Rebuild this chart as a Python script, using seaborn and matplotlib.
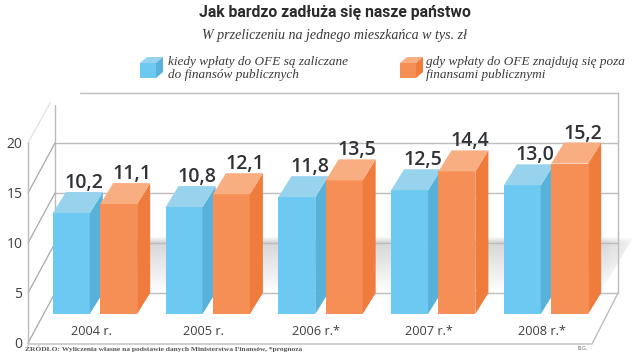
import numpy as np
import pandas as pd
import matplotlib
matplotlib.use("Agg")
import matplotlib.pyplot as plt
from matplotlib.patches import Polygon
from matplotlib.transforms import IdentityTransform, ScaledTranslation
import seaborn as sns

years = ["2004 r.", "2005 r.", "2006 r.*", "2007 r.*", "2008 r.*"]
series_a = "kiedy wpłaty do OFE są zaliczane\ndo finansów publicznych"
series_b = "gdy wpłaty do OFE znajdują się poza\nfinansami publicznymi"
values_a = [10.2, 10.8, 11.8, 12.5, 13.0]
values_b = [11.1, 12.1, 13.5, 14.4, 15.2]
y_ticks = [0, 5, 10, 15, 20]

FRONT = {"a": "#6CC9F1", "b": "#F58F55"}
TOP = {"a": "#98D3EE", "b": "#F9AE82"}
SIDE = {"a": "#58B1D9", "b": "#EF7B3C"}
W, H = 640, 355
DX, DY = 13, 21  # 3D depth of bars, px

sns.set_theme(style="white")
fig = plt.figure(figsize=(W / 100, H / 100), dpi=100, facecolor="white")

# Background layer in pixel coordinates (origin top-left)
bg = fig.add_axes([0, 0, 1, 1], zorder=0)
bg.set_xlim(0, W)
bg.set_ylim(H, 0)
bg.axis("off")

# Soft shadow on the back wall
rows, cols = 60, 60
vert = np.interp(np.arange(rows), [0, 6, rows - 1], [0.0, 0.42, 0.0])
horiz = np.interp(np.arange(cols), [0, cols - 4, cols - 1], [1.0, 1.0, 0.35])
grad = np.ones((rows, cols, 4)) * 0.62
grad[:, :, 3] = vert[:, None] * horiz[None, :]
im = bg.imshow(grad, extent=(137, 634, 293, 236), aspect="auto", zorder=1)
clip = Polygon([(137, 236), (634, 236), (600, 293), (137, 293)], closed=True,
               transform=bg.transData, fc="none", ec="none")
bg.add_patch(clip)
im.set_clip_path(clip)
bg.set_xlim(0, W)
bg.set_ylim(H, 0)

# 3D frame: back wall, floor and left wall
GRID = "#bcbcbc"
for gy in [143, 193, 243, 293]:
    bg.plot([55, 618], [gy, gy], color=GRID, lw=1.0, zorder=2)
bg.plot([80, 618], [93, 93], color=GRID, lw=1.0, zorder=2)
bg.plot([55, 55], [105, 293], color=GRID, lw=1.0, zorder=2)
bg.plot([618, 618], [93, 293], color=GRID, lw=1.0, zorder=2)
bg.plot([28, 592, 618], [344, 344, 293], color=GRID, lw=1.0, zorder=2)
for ly in [343, 293, 243, 193]:
    bg.plot([28, 55], [ly, ly - 50], color="#a8a8a8", lw=0.9, zorder=2)
bg.plot([28, 50], [143, 103], color="#e2e2e2", lw=0.9, zorder=2)

# Bars
frame = pd.DataFrame({
    "year": years * 2,
    "series": ["a"] * len(years) + ["b"] * len(years),
    "value": values_a + values_b,
})
ax = fig.add_axes([0, (H - 314) / H, 1, 314 / H], zorder=2)
ax.patch.set_alpha(0)
sns.barplot(data=frame, x="year", y="value", hue="series", order=years,
            hue_order=["a", "b"], palette=FRONT, saturation=1, width=0.84,
            gap=0.22, linewidth=0, legend=False, errorbar=None, ax=ax)
ax.set_xlim(-95 / 112.75, (W - 95) / 112.75)
ax.set_ylim(0, 314 / 9.9)
ax.set_xlabel("")
ax.set_ylabel("")
ax.set_yticks([])
for s in ax.spines.values():
    s.set_visible(False)
ax.tick_params(axis="x", length=0, pad=8, labelsize=9.2, colors="#3f3f3f")
shift = ScaledTranslation(-4 / 100, 0, fig.dpi_scale_trans)
for lab in ax.get_xticklabels():
    lab.set_family("Open Sans")
    lab.set_transform(lab.get_transform() + shift)

bars = [p for p in ax.patches if p.get_width() > 0]
keys = ["a"] * len(values_a) + ["b"] * len(values_b)
vals = values_a + values_b
ident = IdentityTransform()
for p, k, v in zip(bars, keys, vals):
    x0, y0 = ax.transData.transform((p.get_x(), 0))
    x1, y1 = ax.transData.transform((p.get_x() + p.get_width(), p.get_height()))
    z = 3 + p.get_x() * 2
    p.set_zorder(z)
    p.set_clip_on(False)
    ax.add_patch(Polygon([(x1, y0), (x1 + DX, y0 + DY), (x1 + DX, y1 + DY), (x1, y1)],
                         transform=ident, fc=SIDE[k], ec="none", zorder=z, clip_on=False))
    ax.add_patch(Polygon([(x0, y1), (x1, y1), (x1 + DX, y1 + DY), (x0 + DX, y1 + DY)],
                         transform=ident, fc=TOP[k], ec="none", zorder=z, clip_on=False))
    ax.text((x0 + x1) / 2 + 13, y1 + DY + 9, f"{v:.1f}".replace(".", ","),
            transform=ident, ha="center", va="center", fontsize=14,
            family="Open Sans", weight="semibold", color="#2f3236", zorder=100)

# Value axis in its own scale, on the front edge of the left wall
yax = fig.add_axes([28 / W, (H - 343) / H, 1 / W, 200 / H], zorder=1)
yax.patch.set_alpha(0)
yax.set_ylim(y_ticks[0], y_ticks[-1])
yax.set_yticks(y_ticks)
yax.set_xticks([])
for s in ["top", "right", "bottom"]:
    yax.spines[s].set_visible(False)
yax.spines["left"].set_color(GRID)
yax.spines["left"].set_linewidth(1.0)
yax.tick_params(axis="y", length=0, pad=4, labelsize=10, colors="#3f3f3f")
for lab in yax.get_yticklabels():
    lab.set_family("Open Sans")

# Titles
bg.text(335, 12, "Jak bardzo zadłuża się nasze państwo", ha="center", va="center",
        fontsize=11.3, family="Roboto", weight="bold", color="#2b2b2b")
bg.text(334, 35, "W przeliczeniu na jednego mieszkańca w tys. zł", ha="center", va="center",
        fontsize=10.1, family="Liberation Serif", style="italic", color="#3a3a3a")

# Legend
def cube(x, y, k):
    fw, fh, dx, dy = 16, 15, 7, 6
    bg.add_patch(Polygon([(x, y + dy), (x + dx, y), (x + fw + dx, y), (x + fw, y + dy)],
                         fc=TOP[k], ec="none", zorder=3))
    bg.add_patch(Polygon([(x + fw, y + dy), (x + fw + dx, y), (x + fw + dx, y + fh), (x + fw, y + fh + dy)],
                         fc=SIDE[k], ec="none", zorder=3))
    bg.add_patch(Polygon([(x, y + dy), (x + fw, y + dy), (x + fw, y + fh + dy), (x, y + fh + dy)],
                         fc=FRONT[k], ec="none", zorder=3))

cube(140, 57, "a")
cube(400, 57, "b")
bg.text(168, 68.5, series_a, ha="left", va="center", fontsize=9.5, linespacing=1.05,
        family="Liberation Serif", style="italic", color="#3a3a3a")
bg.text(426, 68.5, series_b, ha="left", va="center", fontsize=9.5, linespacing=1.05,
        family="Liberation Serif", style="italic", color="#3a3a3a")

# Footer
bg.text(25, 349, "ŹRÓDŁO: Wyliczenia własne na podstawie danych Ministerstwa Finansów, *prognoza",
        ha="left", va="center", fontsize=5.4, family="Liberation Serif", weight="bold", color="#555555")
bg.text(583, 348, "B.G.", ha="center", va="center", fontsize=3.8, family="Liberation Sans", color="#666666")

fig.savefig("out.png", dpi=100, facecolor="white")
